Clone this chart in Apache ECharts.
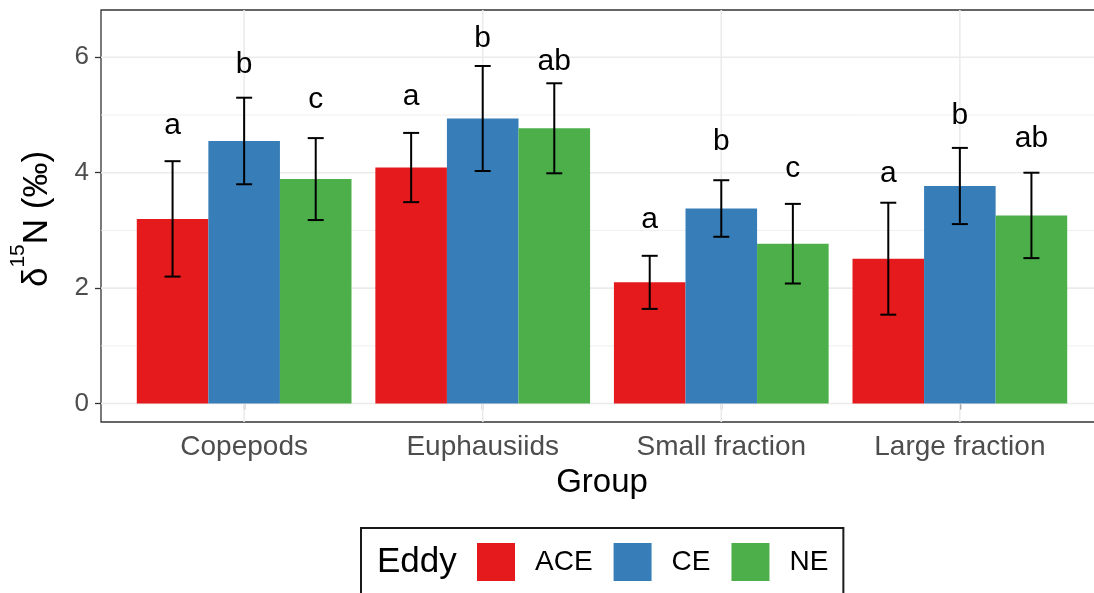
<!DOCTYPE html>
<html>
<head>
<meta charset="utf-8">
<script src="https://cdn.jsdelivr.net/npm/echarts@6/dist/echarts.min.js"></script>
<style>
  html, body { margin: 0; padding: 0; background: #ffffff; }
  #chart { width: 1094px; height: 593px; }
</style>
</head>
<body>
<div id="chart"></div>
<script>
// Groups on the x axis and eddy types in the legend
const groups = ['Copepods', 'Euphausiids', 'Small fraction', 'Large fraction'];
const eddies = ['ACE', 'CE', 'NE'];

// Mean δ15N (‰) and standard deviation per group, one pair per eddy
const aceMean = [3.20, 4.09, 2.10, 2.51];
const aceSd   = [1.00, 0.60, 0.46, 0.97];
const ceMean  = [4.55, 4.94, 3.38, 3.77];
const ceSd    = [0.75, 0.91, 0.49, 0.66];
const neMean  = [3.89, 4.77, 2.77, 3.26];
const neSd    = [0.71, 0.78, 0.69, 0.74];

// Significance letters and the height at which each one is written
const aceLetters = ['a', 'a', 'a', 'a'];
const ceLetters  = ['b', 'b', 'b', 'b'];
const neLetters  = ['c', 'ab', 'c', 'ab'];
const aceLetterY = [4.81, 5.32, 3.19, 3.99];
const ceLetterY  = [5.88, 6.33, 4.53, 4.98];
const neLetterY  = [5.26, 5.93, 4.07, 4.59];

// Axis ticks
const yTicks = [0, 2, 4, 6];
const yMinorTicks = [1, 3, 5];
const xTicks = groups.map((g, i) => i + 1);

const COLORS = ['#E41A1C', '#377EB8', '#4DAF4A'];
const FONT = 'Liberation Sans, Arial, sans-serif';
const DODGE = 0.3;      // distance between dodged bars, in group units
const BAR_W = 0.3;      // bar width, in group units
const CAP_HALF = 8;     // half width of error-bar caps, px

function eddySeries(k, means, sds, letters, letterY) {
  return {
    type: 'custom',
    name: eddies[k],
    z: 3,
    itemStyle: { color: COLORS[k] },
    data: means.map((m, i) => [i + 1, m, sds[i], letterY[i]]),
    renderItem: function (params, api) {
      const x = api.value(0) + (k - 1) * DODGE;
      const m = api.value(1);
      const sd = api.value(2);
      const ly = api.value(3);
      const base = api.coord([x - BAR_W / 2, 0]);
      const tip = api.coord([x + BAR_W / 2, m]);
      const hi = api.coord([x, m + sd]);
      const lo = api.coord([x, m - sd]);
      const lab = api.coord([x, ly]);
      const errStyle = { stroke: '#000000', lineWidth: 2 };
      return {
        type: 'group',
        children: [
          { type: 'rect',
            shape: { x: base[0], y: tip[1], width: tip[0] - base[0], height: base[1] - tip[1] },
            style: { fill: COLORS[k] } },
          { type: 'line', shape: { x1: hi[0], y1: hi[1], x2: lo[0], y2: lo[1] }, style: errStyle },
          { type: 'line', shape: { x1: hi[0] - CAP_HALF, y1: hi[1], x2: hi[0] + CAP_HALF, y2: hi[1] }, style: errStyle },
          { type: 'line', shape: { x1: lo[0] - CAP_HALF, y1: lo[1], x2: lo[0] + CAP_HALF, y2: lo[1] }, style: errStyle },
          { type: 'text', x: lab[0], y: lab[1],
            style: { text: letters[params.dataIndex], fill: '#000000', fontSize: 30,
                     fontFamily: FONT, align: 'center', verticalAlign: 'middle' } }
        ]
      };
    }
  };
}

// Panel grid lines (major and minor) drawn across the plotting area
function hLines(values, width) {
  return {
    type: 'custom', z: 1, silent: true,
    data: values.map(v => [1, v]),
    renderItem: function (params, api) {
      const cs = params.coordSys;
      const y = api.coord([1, api.value(1)])[1];
      return { type: 'line', shape: { x1: cs.x, y1: y, x2: cs.x + cs.width, y2: y },
               style: { stroke: '#EBEBEB', lineWidth: width } };
    }
  };
}
function vLines(values, width) {
  return {
    type: 'custom', z: 1, silent: true,
    data: values.map(v => [v, 0]),
    renderItem: function (params, api) {
      const cs = params.coordSys;
      const x = api.coord([api.value(0), 0])[0];
      return { type: 'line', shape: { x1: x, y1: cs.y, x2: x, y2: cs.y + cs.height },
               style: { stroke: '#EBEBEB', lineWidth: width } };
    }
  };
}

const chart = echarts.init(document.getElementById('chart'), null, { renderer: 'canvas' });
chart.setOption({
  animation: false,
  color: COLORS,
  backgroundColor: '#ffffff',
  grid: {
    left: 101, width: 1002, top: 10, height: 412,
    outerBoundsMode: 'none',
    containLabel: false,
    show: true, borderColor: '#333333', borderWidth: 1.3, backgroundColor: '#ffffff'
  },
  xAxis: {
    type: 'value', min: 0.4, max: 4.6,
    axisLine: { show: false },
    splitLine: { show: false },
    axisTick: { show: true, customValues: xTicks, length: 6, lineStyle: { color: '#333333', width: 1.3 } },
    axisLabel: {
      customValues: xTicks,
      formatter: v => groups[Math.round(v) - 1],
      fontSize: 28, color: '#4D4D4D', fontFamily: FONT, margin: 11
    },
    name: 'Group', nameLocation: 'middle', nameGap: 44,
    nameTextStyle: { fontSize: 33, color: '#000000', fontFamily: FONT }
  },
  yAxis: {
    type: 'value', min: -0.32, max: 6.82,
    axisLine: { show: false },
    splitLine: { show: false },
    axisTick: { show: true, customValues: yTicks, length: 6, lineStyle: { color: '#333333', width: 1.3 } },
    axisLabel: {
      customValues: yTicks,
      fontSize: 26, color: '#4D4D4D', fontFamily: FONT, margin: 12
    }
  },
  legend: {
    data: eddies,
    selectedMode: false,
    left: 361, top: 528,
    orient: 'horizontal',
    icon: 'rect',
    itemWidth: 38, itemHeight: 38, itemGap: 21,
    padding: [15, 15, 15, 116],
    borderColor: '#1A1A1A', borderWidth: 2,
    textStyle: { fontSize: 28, color: '#000000', fontFamily: FONT, padding: [0, 0, 0, 15] }
  },
  graphic: [
    { type: 'text', x: 377, y: 562,
      style: { text: 'Eddy', fontSize: 35, fontFamily: FONT, fill: '#000000',
               align: 'left', verticalAlign: 'middle' } },
    { type: 'text', x: 37, y: 219, rotation: Math.PI / 2,
      style: {
        text: '{d|δ}{s|15}{n|N (‰)}',
        align: 'center', verticalAlign: 'middle', fill: '#000000',
        rich: {
          d: { fontSize: 35, fontFamily: FONT, lineHeight: 58, fill: '#000000' },
          s: { fontSize: 21, fontFamily: FONT, lineHeight: 21, verticalAlign: 'top', fill: '#000000' },
          n: { fontSize: 35, fontFamily: FONT, lineHeight: 58, fill: '#000000' }
        }
      } }
  ],
  series: [
    hLines(yMinorTicks, 0.8),
    hLines(yTicks, 1.6),
    vLines(xTicks, 1.6),
    eddySeries(0, aceMean, aceSd, aceLetters, aceLetterY),
    eddySeries(1, ceMean, ceSd, ceLetters, ceLetterY),
    eddySeries(2, neMean, neSd, neLetters, neLetterY)
  ]
});
</script>
</body>
</html>
